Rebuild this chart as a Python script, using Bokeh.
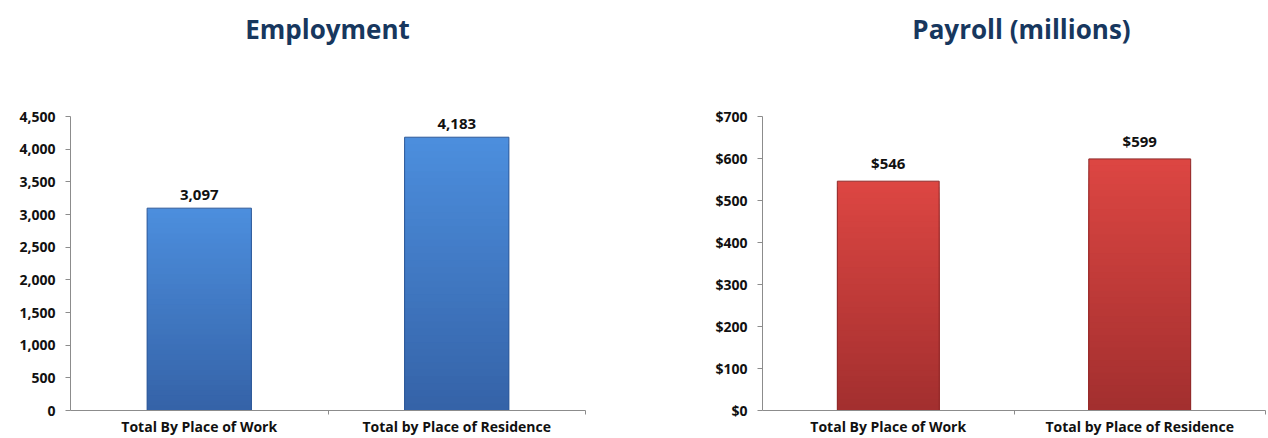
from bokeh.plotting import figure
from bokeh.layouts import row, column
from bokeh.models import Range1d, FixedTicker, NumeralTickFormatter, ColumnDataSource, Div
from bokeh.core.properties import value
from bokeh.embed import file_html
from bokeh.resources import INLINE

categories = ["Total By Place of Work", "Total by Place of Residence"]
employment = [3097, 4183]
payroll = [546, 599]
emp_labels = ["3,097", "4,183"]
pay_labels = ["$546", "$599"]

FONT = "Open Sans"
TITLE_COLOR = "#17375E"


def lerp(c1, c2, t):
    a = [int(c1[i:i + 2], 16) for i in (1, 3, 5)]
    b = [int(c2[i:i + 2], 16) for i in (1, 3, 5)]
    return "#%02x%02x%02x" % tuple(int(round(a[k] + (b[k] - a[k]) * t)) for k in range(3))


def make_chart(title, vals, labels, ymax, step, fmt, top_col, bot_col, edge_col,
               border_left, border_right, title_shift):
    div = Div(text=title, width=634, height=58, margin=(0, 0, 0, 0),
              styles={"font-family": FONT, "font-size": "26px", "font-weight": "bold",
                      "color": TITLE_COLOR, "text-align": "center", "line-height": "58px",
                      "padding-left": "%dpx" % (border_left + title_shift),
                      "padding-right": "%dpx" % border_right,
                      "box-sizing": "border-box", "width": "634px"})
    p = figure(width=634, height=380, output_backend="svg", toolbar_location=None,
               x_range=Range1d(0, len(categories)), y_range=Range1d(0, ymax),
               min_border_left=border_left, min_border_right=border_right,
               min_border_top=58, min_border_bottom=28, margin=(0, 0, 0, 0))
    p.outline_line_color = None
    p.grid.visible = False
    p.background_fill_color = "white"
    p.border_fill_color = "white"

    # gradient bars: overlapping slices drawn from the tallest down (no seams)
    n = 40
    xs, tops, cols = [], [], []
    for i, v in enumerate(vals):
        for k in range(n - 1, -1, -1):
            xs.append(i + 0.5)
            tops.append(v * (k + 1) / n)
            cols.append(lerp(bot_col, top_col, k / (n - 1)))
    p.vbar(x=xs, bottom=0, top=tops, width=0.405, fill_color=cols, line_color=None)
    centers = [i + 0.5 for i in range(len(vals))]
    p.vbar(x=centers, top=vals, width=0.405, fill_color=None, line_color=edge_col, line_width=1)

    src = ColumnDataSource(dict(x=centers, y=vals, t=labels))
    p.text(x="x", y="y", text="t", source=src, text_align="center", text_baseline="bottom",
           y_offset=-8, text_font=value(FONT), text_font_size="15px", text_font_style="bold",
           text_color="#111111")

    # y axis
    ya = p.yaxis[0]
    ya.ticker = FixedTicker(ticks=list(range(0, ymax + 1, step)))
    ya.formatter = NumeralTickFormatter(format=fmt)
    ya.major_label_text_font = FONT
    ya.major_label_text_font_size = "14px"
    ya.major_label_text_font_style = "bold"
    ya.major_label_text_color = "#111111"
    ya.axis_line_color = "#8c8c8c"
    ya.major_tick_line_color = "#8c8c8c"
    ya.major_tick_out = 5
    ya.major_tick_in = 0
    ya.minor_tick_line_color = None
    ya.major_label_standoff = 10

    # x axis
    xa = p.xaxis[0]
    xa.ticker = FixedTicker(ticks=centers, minor_ticks=list(range(1, len(categories) + 1)))
    xa.major_label_overrides = {c: categories[i] for i, c in enumerate(centers)}
    xa.major_label_text_font = FONT
    xa.major_label_text_font_size = "14px"
    xa.major_label_text_font_style = "bold"
    xa.major_label_text_color = "#111111"
    xa.axis_line_color = "#8c8c8c"
    xa.major_tick_line_color = None
    xa.major_tick_out = 0
    xa.major_tick_in = 0
    xa.minor_tick_line_color = "#8c8c8c"
    xa.minor_tick_out = 4
    xa.minor_tick_in = 0
    xa.major_label_standoff = 2
    return column(div, p, spacing=0, margin=(0, 0, 0, 0))


c1 = make_chart("Employment", employment, emp_labels, 4500, 500, "0,0",
                "#4c8edd", "#3563a8", "#2f5a99", 70, 49, 0)
c2 = make_chart("Payroll (millions)", payroll, pay_labels, 700, 100, "$0,0",
                "#dc4642", "#a32f2f", "#8f2a2a", 128, 3, 16)

layout = row(c1, c2, spacing=0, margin=(0, 0, 0, 0))
open("out.html", "w").write(file_html(layout, INLINE))
